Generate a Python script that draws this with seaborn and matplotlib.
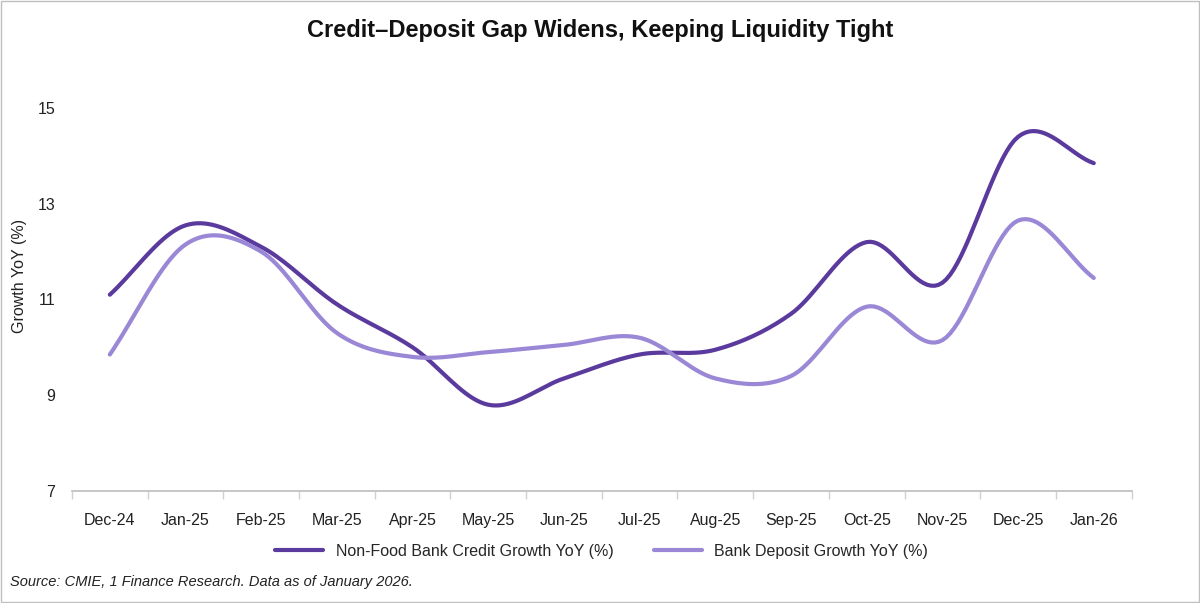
import numpy as np
import matplotlib
matplotlib.use("Agg")
import matplotlib.pyplot as plt
import seaborn as sns
import pandas as pd

months = ["Dec-24","Jan-25","Feb-25","Mar-25","Apr-25","May-25","Jun-25","Jul-25",
          "Aug-25","Sep-25","Oct-25","Nov-25","Dec-25","Jan-26"]
credit = [11.1,12.55,12.1,10.9,10.0,8.8,9.35,9.85,9.95,10.7,12.2,11.35,14.4,13.85]
deposit = [9.85,12.15,12.0,10.3,9.8,9.9,10.05,10.2,9.35,9.4,10.85,10.15,12.65,11.45]

sns.set_theme(style="white")
plt.rcParams['font.family'] = ['Liberation Sans', 'DejaVu Sans']

def smooth(y, n=20):
    y = np.asarray(y, float)
    p = np.concatenate([[2*y[0]-y[1]], y, [2*y[-1]-y[-2]]])
    xs, ys = [], []
    for i in range(1, len(p)-2):
        t = np.linspace(0, 1, n, endpoint=False)
        p0, p1, p2, p3 = p[i-1], p[i], p[i+1], p[i+2]
        m1 = (p2-p0)/2; m2 = (p3-p1)/2
        h00 = 2*t**3-3*t**2+1; h10 = t**3-2*t**2+t; h01 = -2*t**3+3*t**2; h11 = t**3-t**2
        ys.append(h00*p1+h10*m1+h01*p2+h11*m2)
        xs.append(i-1+t)
    xs.append([len(y)-1]); ys.append([y[-1]])
    return np.concatenate(xs), np.concatenate(ys)

fig = plt.figure(figsize=(12, 6.03), dpi=100)
ax = fig.add_axes([0.06, 0.186, 0.883, 0.714])
rows = []
for name, vals in [("Non-Food Bank Credit Growth YoY (%)", credit), ("Bank Deposit Growth YoY (%)", deposit)]:
    x, y = smooth(vals)
    rows.append(pd.DataFrame({"x": x, "y": y, "s": name}))
df = pd.concat(rows)
sns.lineplot(data=df, x="x", y="y", hue="s", palette=["#5b3a9e", "#9a87d6"], linewidth=3,
             ax=ax, sort=False, estimator=None)
ax.set_xlim(-0.43, 13.4)
ax.set_ylim(7, 16)
ax.set_yticks([7, 9, 11, 13, 15])
ax.set_xticks(range(len(months)))
ax.set_xticklabels(months)
ax.tick_params(axis='both', labelsize=11.5, colors="#222222", length=0)
ax.tick_params(axis='x', which='major', length=0, pad=16)
ax.set_xticks(np.arange(-0.5, 13.6, 1), minor=True)
ax.tick_params(axis='x', which='minor', length=6, color="#d0d0d0", bottom=True)
ax.tick_params(axis='y', pad=12)
ax.set_xlabel("")
ax.set_ylabel("Growth YoY (%)", fontsize=11.5, color="#222222")
ax.yaxis.set_label_coords(-0.042, 0.5)
for s in ["top", "right", "left"]:
    ax.spines[s].set_visible(False)
ax.spines["bottom"].set_color("#bfbfbf")
ax.legend(loc="upper center", bbox_to_anchor=(0.5, -0.09), ncol=2, frameon=False,
          fontsize=11.5, handlelength=3, columnspacing=2.5)
fig.text(0.5, 0.95, "Credit–Deposit Gap Widens, Keeping Liquidity Tight", ha="center", va="center",
         fontsize=17, fontweight="bold", color="#111111")
fig.text(0.008, 0.035, "Source: CMIE, 1 Finance Research. Data as of January 2026.", fontsize=10.5,
         style="italic", color="#222222", va="center")
fig.patches.append(plt.Rectangle((0.001, 0.001), 0.998, 0.998, transform=fig.transFigure,
                                 fill=False, edgecolor="#bfbfbf", linewidth=1))
fig.savefig("out.png", dpi=100)
